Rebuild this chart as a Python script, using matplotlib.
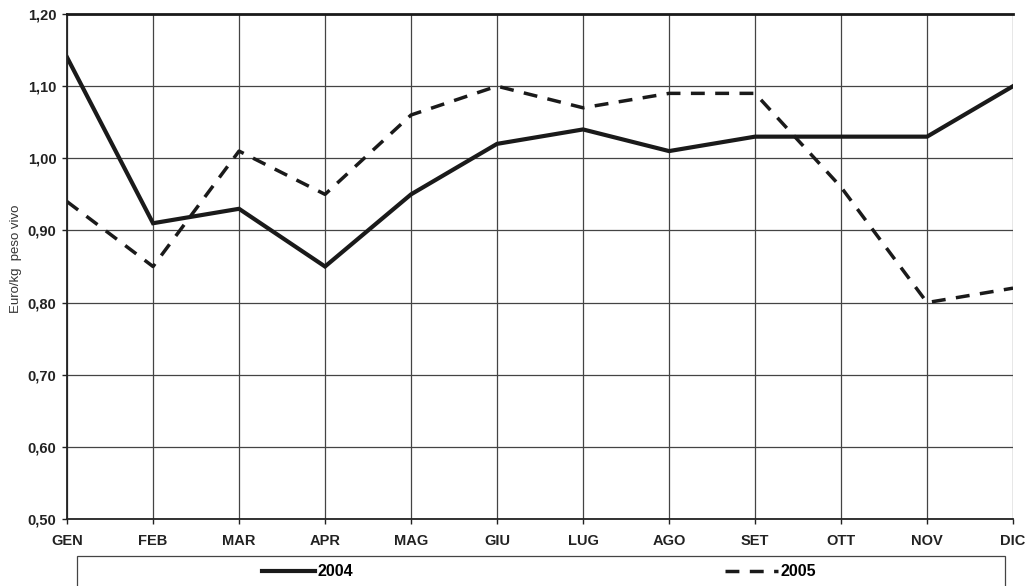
import matplotlib.pyplot as plt
from matplotlib.patches import Rectangle

plt.rcParams['font.family'] = ['Liberation Sans', 'DejaVu Sans']

mesi = ['GEN', 'FEB', 'MAR', 'APR', 'MAG', 'GIU', 'LUG', 'AGO', 'SET', 'OTT', 'NOV', 'DIC']
prezzi_2004 = [1.14, 0.91, 0.93, 0.85, 0.95, 1.02, 1.04, 1.01, 1.03, 1.03, 1.03, 1.10]
prezzi_2005 = [0.94, 0.85, 1.01, 0.95, 1.06, 1.10, 1.07, 1.09, 1.09, 0.96, 0.80, 0.82]
y_ticks = [0.50, 0.60, 0.70, 0.80, 0.90, 1.00, 1.10, 1.20]

fig = plt.figure(figsize=(10.31, 5.86), dpi=100)
ax = fig.add_axes([0.065, 0.1143, 0.9176, 0.8618])

x = list(range(len(mesi)))
l1, = ax.plot(x, prezzi_2004, color='#1a1a1a', lw=3, solid_joinstyle='miter')
l2, = ax.plot(x, prezzi_2005, color='#1a1a1a', lw=2.5, dashes=(4, 3))

ax.set_xlim(0, 11)
ax.set_ylim(0.5, 1.2)
ax.set_xticks(x)
ax.set_xticklabels(mesi, fontsize=10.5, fontweight='bold', color='#222222')
ax.set_yticks(y_ticks)
ax.set_yticklabels([('%.2f' % v).replace('.', ',') for v in y_ticks], fontsize=10.5, fontweight='bold', color='#222222')
ax.tick_params(direction='out', length=3.5, width=1, color='#222222')
ax.tick_params(axis='y', pad=4)
ax.tick_params(axis='x', pad=7.5)
ax.grid(True, color='#444444', lw=0.9)
ax.spines['right'].set_visible(False)
ax.spines['top'].set_linewidth(2)
ax.spines['top'].set_color('#1a1a1a')
for s in ['left', 'bottom']:
    ax.spines[s].set_linewidth(1.3)
    ax.spines[s].set_color('#222222')
ax.set_ylabel('Euro/kg  peso vivo', fontsize=9.5, color='#333333')
ax.yaxis.set_label_coords(-0.0476, 0.515)

# riquadro della legenda sotto il grafico
box = Rectangle((77 / 1031, -0.05), 928 / 1031, 0.05 + 30 / 586, transform=fig.transFigure,
                fill=False, edgecolor='#444444', lw=0.9)
fig.patches.append(box)

leg1 = fig.legend([l1], ['2004'], loc='center left', bbox_to_anchor=(262 / 1031, 1 - 572 / 586),
                  frameon=False, borderpad=0, borderaxespad=0, handlelength=3.3, handletextpad=0.15,
                  prop={'weight': 'bold', 'size': 11.5})
leg2 = fig.legend([l2], ['2005'], loc='center left', bbox_to_anchor=(725 / 1031, 1 - 572 / 586),
                  frameon=False, borderpad=0, borderaxespad=0, handlelength=3.3, handletextpad=0.15,
                  prop={'weight': 'bold', 'size': 11.5})

fig.savefig('out.png', dpi=100)
